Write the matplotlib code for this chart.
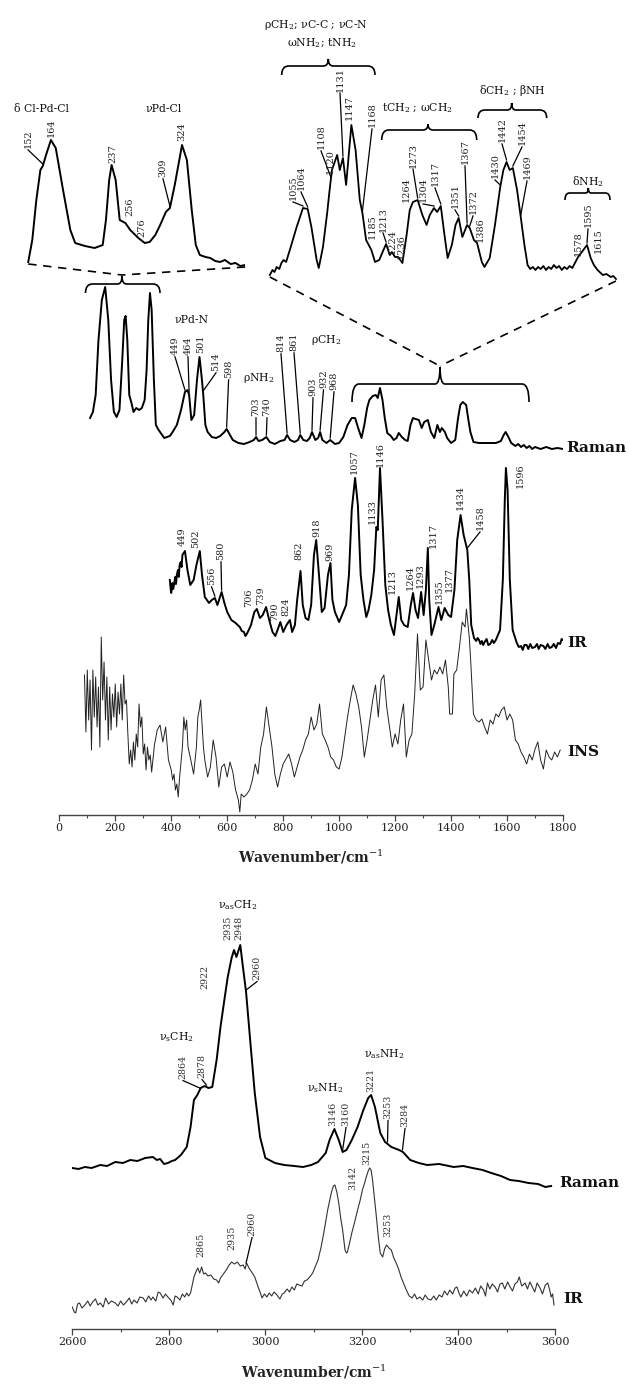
import matplotlib
matplotlib.use("Agg")
import numpy as np
import matplotlib.pyplot as plt
from matplotlib.path import Path
from matplotlib.patches import PathPatch
from matplotlib.ticker import MultipleLocator

plt.rcParams['font.family'] = ['DejaVu Serif']
plt.rcParams['mathtext.fontset'] = 'dejavuserif'

# ===================== DATA =====================
# Raman overview 100-1800 cm-1 (relative intensity)
raman_wn = [110, 120, 130, 140, 152, 164, 175, 185, 195, 205,
            215, 225, 232, 237, 243, 250, 258, 265, 275, 285,
            295, 305, 312, 318, 324, 330, 338, 345, 355, 365,
            375, 385, 395, 405, 420, 435, 449, 458, 464, 472,
            482, 492, 501, 508, 514, 522, 530, 545, 560, 575,
            590, 598, 608, 620, 640, 660, 680, 695, 703, 712,
            725, 740, 752, 770, 790, 805, 814, 825, 840, 853,
            861, 872, 885, 895, 903, 915, 925, 932, 940, 955,
            968, 985, 1000, 1015, 1030, 1045, 1057, 1068, 1080, 1090,
            1100, 1108, 1120, 1131, 1138, 1146, 1155, 1163, 1172, 1185,
            1195, 1205, 1213, 1224, 1236, 1245, 1255, 1264, 1273, 1285,
            1295, 1304, 1317, 1328, 1340, 1351, 1360, 1367, 1378, 1386,
            1400, 1415, 1425, 1433, 1442, 1454, 1462, 1469, 1480, 1500,
            1520, 1540, 1560, 1578, 1588, 1595, 1605, 1615, 1630, 1640,
            1650, 1660, 1670, 1680, 1690, 1700, 1720, 1740, 1760, 1780,
            1800]
raman_int = [31, 37, 54, 109, 149, 162, 129, 69, 37, 32,
             39, 89, 129, 133, 109, 54, 46, 37, 41, 39,
             41, 49, 79, 129, 156, 139, 69, 24, 19, 15,
             11, 12, 13, 17, 24, 39, 57, 59, 54, 29,
             34, 69, 92, 74, 56, 24, 17, 12, 11, 13,
             17, 20, 15, 9, 6, 5, 7, 9, 12, 8,
             9, 12, 7, 5, 8, 9, 14, 9, 7, 9,
             14, 9, 8, 11, 17, 9, 11, 17, 9, 6,
             9, 5, 6, 12, 24, 31, 31, 21, 11, 24,
             41, 49, 53, 54, 51, 61, 49, 31, 16, 13,
             9, 11, 16, 12, 9, 8, 24, 31, 30, 29,
             21, 27, 29, 17, 11, 24, 17, 21, 17, 11,
             6, 9, 31, 44, 47, 44, 29, 17, 7, 6,
             6, 6, 6, 8, 14, 17, 12, 6, 3, 5,
             2, 4, 1, 3, 0, 2, 0, 2, 0, 1,
             0]

# Raman expanded 130-400 cm-1
raman_lo_wn = [134, 139, 144, 149, 152, 156, 162, 168, 177, 186,
               192, 204, 216, 226, 230, 234, 237, 242, 247, 254,
               260, 270, 278, 284, 291, 297, 304, 309, 315, 324,
               330, 336, 341, 346, 353, 359, 365, 371, 377, 384,
               390, 396, 402]
raman_lo_int = [4, 26, 66, 96, 100, 111, 126, 118, 76, 36,
                23, 20, 18, 21, 46, 86, 101, 86, 46, 43,
                36, 28, 23, 24, 31, 41, 54, 58, 81, 121,
                106, 56, 21, 11, 9, 8, 5, 4, 6, 2,
                3, 0, 1]

# Raman expanded 990-1650 cm-1
raman_mid_wn = [992, 997, 1001, 1005, 1010, 1014, 1018, 1023, 1027, 1030,
                1043, 1055, 1064, 1071, 1081, 1085, 1093, 1101, 1105, 1110,
                1120, 1125, 1131, 1137, 1147, 1155, 1163, 1168, 1175, 1185,
                1192, 1200, 1208, 1213, 1220, 1224, 1230, 1236, 1244, 1252,
                1258, 1264, 1273, 1282, 1290, 1296, 1304, 1310, 1317, 1324,
                1330, 1338, 1345, 1351, 1358, 1367, 1372, 1380, 1386, 1395,
                1400, 1410, 1420, 1430, 1436, 1442, 1448, 1454, 1462, 1469,
                1476, 1482, 1487, 1492, 1497, 1502, 1507, 1512, 1517, 1522,
                1527, 1532, 1537, 1542, 1547, 1552, 1557, 1562, 1567, 1572,
                1578, 1588, 1595, 1602, 1608, 1615, 1625, 1632, 1640, 1645,
                1650]
raman_mid_int = [5, 10, 8, 13, 11, 17, 20, 18, 25, 30,
                 53, 72, 71, 53, 20, 12, 33, 67, 87, 110,
                 125, 110, 122, 95, 155, 130, 80, 67, 40, 30,
                 18, 20, 30, 36, 25, 28, 23, 23, 17, 45,
                 70, 78, 80, 65, 55, 65, 72, 68, 74, 45,
                 22, 35, 55, 62, 43, 55, 52, 40, 37, 18,
                 13, 22, 55, 93, 110, 118, 110, 112, 90, 63,
                 35, 15, 11, 13, 10, 13, 11, 14, 10, 13,
                 11, 15, 12, 14, 10, 13, 11, 14, 12, 17,
                 23, 30, 35, 22, 15, 10, 5, 6, 3, 4,
                 1]

# IR 400-1800 cm-1
ir_wn = [395, 398, 400, 404, 407, 410, 414, 417, 420, 424,
         427, 430, 434, 437, 440, 449, 458, 468, 480, 490,
         502, 510, 520, 535, 545, 556, 565, 580, 590, 600,
         615, 630, 645, 652, 660, 665, 670, 677, 685, 697,
         706, 717, 727, 739, 750, 762, 772, 780, 790, 800,
         812, 824, 832, 842, 850, 862, 870, 880, 890, 900,
         910, 918, 928, 938, 948, 960, 969, 976, 985, 1000,
         1012, 1025, 1035, 1045, 1057, 1067, 1077, 1087, 1097, 1105,
         1115, 1125, 1133, 1138, 1146, 1155, 1165, 1175, 1185, 1196,
         1205, 1213, 1222, 1232, 1245, 1256, 1264, 1273, 1282, 1293,
         1302, 1310, 1317, 1322, 1330, 1340, 1355, 1365, 1377, 1390,
         1400, 1412, 1422, 1434, 1445, 1458, 1465, 1472, 1482, 1490,
         1495, 1500, 1505, 1510, 1515, 1520, 1527, 1533, 1540, 1547,
         1553, 1560, 1575, 1585, 1592, 1596, 1602, 1610, 1620, 1635,
         1642, 1650, 1656, 1662, 1670, 1676, 1683, 1690, 1700, 1707,
         1713, 1720, 1730, 1737, 1745, 1752, 1760, 1767, 1775, 1782,
         1790, 1795, 1800]
ir_int = [67, 58, 54, 64, 58, 62, 70, 63, 72, 77,
          70, 82, 85, 80, 92, 96, 77, 62, 67, 82,
          96, 72, 50, 44, 47, 49, 42, 55, 44, 35,
          27, 24, 20, 16, 15, 11, 13, 17, 22, 35,
          38, 29, 32, 40, 27, 15, 11, 17, 25, 15,
          22, 27, 15, 22, 47, 76, 42, 29, 27, 42,
          92, 107, 72, 35, 39, 72, 84, 47, 35, 25,
          33, 42, 72, 137, 169, 142, 72, 47, 30, 37,
          52, 77, 120, 117, 179, 127, 62, 37, 22, 12,
          32, 50, 27, 22, 20, 42, 54, 37, 29, 55,
          32, 57, 99, 47, 12, 22, 40, 27, 39, 32,
          30, 57, 107, 132, 112, 97, 67, 22, 9, 6,
          9, 7, 3, 6, 2, 5, 8, 2, 3, 7,
          4, 7, 17, 67, 147, 179, 157, 67, 17, 4,
          0, 1, -3, 2, 2, -2, 3, -1, 0, 3,
          -2, 2, 1, -2, 3, -1, 0, 3, -1, 4,
          3, 8, 7]

# INS 90-1790 cm-1
ins_wn = [90, 95, 100, 105, 110, 115, 120, 125, 130, 135,
          140, 145, 150, 155, 160, 165, 170, 175, 180, 185,
          190, 195, 200, 205, 210, 215, 220, 225, 230, 235,
          240, 245, 250, 255, 260, 265, 270, 275, 280, 285,
          290, 295, 300, 305, 310, 315, 320, 325, 330, 340,
          350, 360, 370, 380, 390, 400, 405, 410, 415, 420,
          425, 430, 440, 445, 450, 455, 460, 470, 480, 490,
          495, 500, 505, 510, 515, 520, 530, 540, 550, 560,
          570, 580, 590, 600, 610, 620, 630, 640, 645, 650,
          660, 670, 680, 690, 700, 710, 720, 730, 740, 750,
          760, 770, 780, 790, 800, 810, 820, 830, 840, 850,
          860, 870, 880, 890, 900, 910, 920, 930, 940, 950,
          960, 970, 980, 990, 1000, 1010, 1020, 1030, 1040, 1050,
          1060, 1070, 1080, 1090, 1100, 1110, 1120, 1130, 1140, 1150,
          1160, 1170, 1180, 1190, 1200, 1210, 1220, 1230, 1240, 1250,
          1260, 1270, 1280, 1290, 1300, 1310, 1320, 1330, 1340, 1350,
          1360, 1370, 1380, 1390, 1395, 1405, 1410, 1420, 1430, 1440,
          1450, 1455, 1465, 1470, 1480, 1490, 1500, 1510, 1520, 1530,
          1540, 1550, 1560, 1570, 1580, 1590, 1600, 1610, 1620, 1630,
          1640, 1650, 1660, 1670, 1680, 1690, 1700, 1710, 1720, 1730,
          1740, 1750, 1760, 1770, 1780, 1790]
ins_int = [152, 95, 157, 107, 147, 77, 157, 110, 150, 100,
           140, 80, 190, 127, 165, 107, 150, 87, 140, 97,
           133, 110, 143, 100, 135, 113, 143, 107, 152, 123,
           127, 93, 63, 77, 60, 85, 67, 93, 80, 123,
           100, 110, 73, 83, 57, 80, 67, 72, 55, 82,
           97, 102, 85, 100, 67, 57, 47, 53, 37, 43,
           30, 50, 80, 110, 97, 107, 80, 67, 53, 80,
           110, 117, 127, 103, 80, 67, 50, 60, 87, 70,
           40, 60, 63, 50, 65, 55, 37, 27, 15, 33,
           30, 33, 37, 47, 63, 53, 80, 93, 120, 100,
           80, 53, 40, 53, 63, 68, 73, 63, 50, 60,
           70, 77, 87, 93, 110, 97, 103, 123, 93, 87,
           80, 70, 67, 60, 58, 70, 90, 110, 127, 142,
           133, 120, 100, 70, 87, 107, 127, 142, 110, 147,
           152, 120, 100, 80, 93, 83, 107, 123, 70, 87,
           93, 133, 193, 137, 140, 187, 167, 147, 157, 153,
           160, 153, 167, 140, 113, 113, 153, 157, 180, 205,
           200, 218, 190, 167, 113, 107, 105, 108, 100, 93,
           107, 103, 113, 110, 117, 120, 107, 113, 107, 87,
           83, 75, 70, 63, 73, 67, 78, 85, 67, 58,
           77, 70, 67, 75, 70, 77]

# High-frequency Raman 2600-3600 cm-1
hraman_wn = [2600, 2613, 2626, 2640, 2658, 2672, 2689, 2705, 2720, 2735,
             2751, 2767, 2775, 2782, 2790, 2798, 2806, 2813, 2825, 2837,
             2845, 2852, 2859, 2866, 2874, 2882, 2890, 2899, 2907, 2915,
             2922, 2930, 2935, 2940, 2948, 2953, 2960, 2969, 2978, 2989,
             3000, 3020, 3039, 3060, 3078, 3095, 3109, 3125, 3133, 3143,
             3152, 3160, 3168, 3179, 3191, 3203, 3213, 3219, 3227, 3238,
             3248, 3261, 3277, 3285, 3300, 3318, 3335, 3360, 3390, 3410,
             3429, 3450, 3468, 3488, 3507, 3525, 3545, 3565, 3580, 3592]
hraman_int = [22, 21, 23, 22, 25, 24, 28, 27, 30, 29,
              32, 33, 30, 31, 26, 27, 29, 30, 35, 43,
              63, 90, 95, 102, 104, 102, 103, 130, 163, 190,
              213, 232, 240, 233, 245, 225, 198, 147, 97, 53,
              32, 27, 25, 24, 23, 25, 28, 37, 50, 61,
              50, 38, 40, 50, 63, 80, 92, 95, 83, 57,
              48, 43, 40, 38, 30, 27, 25, 26, 23, 24,
              22, 20, 17, 14, 10, 9, 7, 6, 3, 4]

# High-frequency IR 2600-3600 cm-1
hir_wn = [2600, 2604, 2607, 2611, 2615, 2620, 2626, 2632, 2637, 2642,
          2648, 2653, 2658, 2664, 2669, 2675, 2681, 2689, 2695, 2700,
          2706, 2712, 2718, 2723, 2728, 2734, 2740, 2747, 2752, 2758,
          2763, 2767, 2773, 2778, 2782, 2788, 2793, 2798, 2804, 2809,
          2813, 2817, 2823, 2828, 2833, 2837, 2841, 2845, 2852, 2856,
          2860, 2864, 2868, 2872, 2876, 2881, 2887, 2893, 2899, 2903,
          2907, 2913, 2919, 2925, 2930, 2936, 2942, 2948, 2954, 2958,
          2961, 2966, 2973, 2978, 2985, 2989, 2993, 2998, 3003, 3008,
          3013, 3018, 3024, 3030, 3035, 3039, 3045, 3050, 3055, 3060,
          3065, 3070, 3076, 3081, 3086, 3092, 3098, 3104, 3109, 3115,
          3121, 3129, 3137, 3141, 3144, 3148, 3152, 3156, 3160, 3165,
          3168, 3170, 3174, 3179, 3185, 3191, 3196, 3201, 3205, 3209,
          3213, 3216, 3219, 3222, 3226, 3230, 3234, 3238, 3243, 3247,
          3251, 3256, 3261, 3266, 3271, 3276, 3281, 3286, 3292, 3298,
          3304, 3309, 3314, 3320, 3326, 3331, 3337, 3343, 3349, 3354,
          3360, 3366, 3371, 3377, 3382, 3388, 3393, 3397, 3401, 3405,
          3411, 3417, 3423, 3429, 3435, 3441, 3446, 3452, 3456, 3460,
          3465, 3470, 3476, 3481, 3486, 3491, 3496, 3502, 3507, 3512,
          3517, 3522, 3526, 3531, 3538, 3543, 3548, 3553, 3558, 3563,
          3569, 3574, 3580, 3585, 3589, 3592, 3595, 3598]
hir_int = [3, -2, -3, 6, 7, 2, 5, 9, 4, 8,
           11, 5, 7, 3, 12, 6, 9, 7, 4, 9,
           5, 8, 12, 6, 10, 7, 13, 12, 8, 14,
           10, 13, 9, 18, 17, 12, 16, 13, 10, 5,
           14, 13, 10, 16, 13, 17, 14, 17, 33, 38,
           42, 37, 43, 36, 37, 34, 35, 31, 30, 27,
           32, 36, 40, 45, 48, 46, 48, 44, 45, 41,
           47, 42, 37, 33, 23, 18, 12, 16, 13, 17,
           14, 18, 15, 11, 16, 17, 21, 18, 23, 20,
           26, 25, 24, 29, 30, 33, 37, 44, 50, 62,
           77, 100, 118, 124, 125, 118, 107, 92, 80, 60,
           57, 58, 66, 77, 88, 100, 109, 120, 126, 133,
           139, 142, 140, 130, 112, 93, 73, 57, 53, 61,
           65, 62, 60, 52, 47, 41, 33, 27, 20, 14,
           12, 16, 11, 13, 10, 15, 11, 10, 14, 10,
           15, 13, 19, 15, 20, 16, 22, 23, 17, 13,
           19, 14, 20, 17, 22, 16, 24, 20, 14, 27,
           21, 26, 23, 18, 26, 27, 21, 28, 23, 19,
           26, 28, 33, 24, 27, 21, 28, 23, 18, 27,
           22, 16, 25, 27, 20, 13, 16, 5]

# labelled peak positions (cm-1)
raman_peaks = [449, 464, 501, 514, 598, 703, 740, 814, 861, 903, 932, 968]
ir_peaks = [449, 502, 556, 580, 706, 739, 790, 824, 862, 918, 969, 1057, 1133,
            1146, 1213, 1264, 1293, 1317, 1355, 1377, 1434, 1458, 1596]
lo_peaks = [152, 164, 237, 256, 276, 309, 324]
mid_peaks = [1055, 1064, 1108, 1120, 1131, 1147, 1168, 1185, 1213, 1224, 1236,
             1264, 1273, 1304, 1317, 1351, 1367, 1372, 1386, 1430, 1442, 1454,
             1469, 1578, 1595, 1615]
hraman_peaks = [2864, 2878, 2922, 2935, 2948, 2960, 3146, 3160, 3221, 3253, 3284]
hir_peaks = [2865, 2935, 2960, 3142, 3215, 3253]

# ===================== LAYOUT =====================
W, H = 629, 1384
fig = plt.figure(figsize=(W / 100, H / 100), dpi=100)


def px_axes(x0, x1, y0, y1):
    a = fig.add_axes([x0 / W, 1 - y1 / H, (x1 - x0) / W, (y1 - y0) / H])
    a.patch.set_alpha(0)
    return a


TOP_Y = 815
ax_top = px_axes(59.3, 563, 0, TOP_Y)
ax_top.set_xlim(0, 1800)
ax_top.set_ylim(0, TOP_Y)
ax_lo = px_axes(25, 245, 0, TOP_Y)
ax_lo.set_xlim(130.0, 401.8)
ax_lo.set_ylim(0, TOP_Y)
ax_lo.axis('off')
ax_mid = px_axes(266, 620, 0, TOP_Y)
ax_mid.set_xlim(984.7, 1657.7)
ax_mid.set_ylim(0, TOP_Y)
ax_mid.axis('off')
ax_bot = px_axes(72.3, 555, 870, 1329)
ax_bot.set_xlim(2600, 3600)
ax_bot.set_ylim(0, 459)

ov = fig.add_axes([0, 0, 1, 1])
ov.set_xlim(0, W)
ov.set_ylim(H, 0)
ov.axis('off')
ov.patch.set_alpha(0)

OFF_RAMAN, OFF_IR, OFF_INS = 366, 168, -12
OFF_LO, OFF_MID = 549, 535
OFF_HR, OFF_HIR = 139, 19

ax_top.plot(raman_wn, np.array(raman_int) + OFF_RAMAN, color='black', lw=1.4)
ax_top.plot(ir_wn, np.array(ir_int) + OFF_IR, color='black', lw=1.4)
ax_top.plot(ins_wn, np.array(ins_int) + OFF_INS, color='#222222', lw=0.7)
ax_lo.plot(raman_lo_wn, np.array(raman_lo_int) + OFF_LO, color='black', lw=1.4)
ax_mid.plot(raman_mid_wn, np.array(raman_mid_int) + OFF_MID, color='black', lw=1.3)
ax_bot.plot(hraman_wn, np.array(hraman_int) + OFF_HR, color='black', lw=1.4)
ax_bot.plot(hir_wn, np.array(hir_int) + OFF_HIR, color='#333333', lw=0.8)

for a in (ax_top, ax_bot):
    for s in ('top', 'left', 'right'):
        a.spines[s].set_visible(False)
    a.spines['bottom'].set_color('#444444')
    a.spines['bottom'].set_linewidth(1.0)
    a.set_yticks([])
    a.xaxis.set_major_locator(MultipleLocator(200))
    a.xaxis.set_minor_locator(MultipleLocator(100))
    a.tick_params(axis='x', which='major', direction='out', length=4, width=0.9,
                  colors='#444444', labelsize=8, labelcolor='#222222', pad=2)
    a.tick_params(axis='x', which='minor', direction='out', length=2, width=0.8,
                  colors='#444444')


def to_px(a, x, y):
    dx, dy = a.transData.transform((x, y))
    return dx, H - dy


def peak_labels(a, wl, il, off, peaks, pos, fs=7, color='#222222'):
    for wn, (cx, cy, line) in zip(peaks, pos):
        txt = str(wn)
        ov.text(cx, cy, txt, rotation=90, ha='center', va='center',
                fontsize=fs, color=color)
        if line:
            half = 0.5 * len(txt) * 0.64 * fs * 100 / 72
            px, py = to_px(a, wn, off + np.interp(wn, wl, il))
            y0 = cy + half + 1.5
            y1 = py - 2
            if y1 - y0 > 2:
                ov.plot([cx, px], [y0, y1], color='black', lw=0.9)


raman_pos = [(175, 346, True), (188, 346, True), (200.5, 344, False), (216, 362, True),
             (228.6, 369, True), (256, 407, True), (267, 407, True), (281, 343, True),
             (294, 342, True), (313, 387, True), (323.5, 379, True), (334, 381, True)]
ir_pos = [(182, 537, False), (196, 539, False), (211.5, 576, True), (221, 551, True),
          (249, 598, False), (261, 596, False), (275, 612, False), (286, 607, False),
          (299, 551, False), (317, 528, False), (330, 552, False), (354, 462, False),
          (372, 512, False), (380, 455, False), (392, 582, False), (410, 578, False),
          (420, 576, False), (433, 535, False), (439, 592, False), (449, 580, False),
          (460, 497, False), (480, 518, True), (520, 476, False)]
lo_pos = [(28, 139, True), (51, 128, False), (113, 154, False), (130, 207, False),
          (142, 228, False), (163, 168, True), (182, 132, False)]
mid_pos = [(293, 188, True), (301, 178, True), (321, 137, True), (330, 162, True),
           (340, 79, True), (349, 108, False), (372, 115, True), (372, 227, False),
           (383, 219, True), (392, 241, True), (401, 247, True), (406, 190, True),
           (413, 155, True), (423, 190, True), (435, 174, True), (455, 196, True),
           (465, 152, True), (473, 202, True), (480, 230, True), (495, 166, True),
           (502, 130, True), (522, 133, True), (527, 167, True), (578, 244, False),
           (588, 215, True), (598, 241, False)]
hr_pos = [(183, 1067, True), (202, 1066, True), (205, 977, True), (228, 928, False),
          (239, 928, False), (257, 968, True), (333, 1114, False), (346, 1114, True),
          (371, 1080, False), (388, 1107, True), (405, 1115, True)]
hir_pos = [(201, 1245, False), (232, 1238, False), (252, 1224, True), (353, 1178, False),
           (367, 1153, False), (388, 1225, False)]

peak_labels(ax_top, raman_wn, raman_int, OFF_RAMAN, raman_peaks, raman_pos)
peak_labels(ax_top, ir_wn, ir_int, OFF_IR, ir_peaks, ir_pos)
peak_labels(ax_lo, raman_lo_wn, raman_lo_int, OFF_LO, lo_peaks, lo_pos)
peak_labels(ax_mid, raman_mid_wn, raman_mid_int, OFF_MID, mid_peaks, mid_pos)
peak_labels(ax_bot, hraman_wn, hraman_int, OFF_HR, hraman_peaks, hr_pos, fs=6.8, color='#333333')
peak_labels(ax_bot, hir_wn, hir_int, OFF_HIR, hir_peaks, hir_pos, fs=6.8, color='#333333')


def brace(x0, x1, xa, y_end, y_mid, y_apex, lw=1.2):
    r = min(7, (x1 - x0) * 0.1)
    ra = min(5, (x1 - x0) * 0.06)
    verts = [(x0, y_end), (x0, y_mid), (x0 + r, y_mid),
             (xa - ra, y_mid), (xa, y_mid), (xa, y_apex),
             (xa, y_mid), (xa + ra, y_mid),
             (x1 - r, y_mid), (x1, y_mid), (x1, y_end)]
    codes = [Path.MOVETO, Path.CURVE3, Path.CURVE3, Path.LINETO, Path.CURVE3, Path.CURVE3,
             Path.CURVE3, Path.CURVE3, Path.LINETO, Path.CURVE3, Path.CURVE3]
    ov.add_patch(PathPatch(Path(verts, codes), fill=False, lw=lw, color='black'))


brace(85.5, 160, 122, 293, 284, 276)
brace(352, 529, 440, 402, 384, 367)
brace(281.7, 375, 328.3, 75, 66, 59)
brace(381.7, 476.7, 428, 140, 130, 124)
brace(478, 546.7, 511.7, 118, 110, 103)
brace(565, 610, 588.3, 200, 193, 188)

# dashed connectors from expanded views to the braces
a_l = to_px(ax_lo, raman_lo_wn[0], raman_lo_int[0] + OFF_LO)
a_r = to_px(ax_lo, raman_lo_wn[-1], raman_lo_int[-1] + OFF_LO)
b_l = to_px(ax_mid, raman_mid_wn[0], raman_mid_int[0] + OFF_MID)
b_r = to_px(ax_mid, raman_mid_wn[-1], raman_mid_int[-1] + OFF_MID)
for (sx, sy), (ex, ey) in [(a_l, (122, 275)), (a_r, (122, 275)),
                           (b_l, (440, 366)), (b_r, (440, 366))]:
    ov.plot([sx, ex], [sy + 2, ey], color='black', lw=1.2, dashes=(5, 4))

# group / assignment labels
gfs = 7.8
groups = [('δ Cl-Pd-Cl', 41.5, 109), ('νPd-Cl', 164, 109),
          ('ρCH$_2$; νC-C ; νC-N', 316, 25), ('ωNH$_2$; tNH$_2$', 322, 43),
          ('tCH$_2$ ; ωCH$_2$', 417, 108), ('δCH$_2$ ; βNH', 512, 90),
          ('δNH$_2$', 588, 182), ('νPd-N', 192, 320), ('ρNH$_2$', 259, 378),
          ('ρCH$_2$', 326, 340),
          ('ν$_\\mathrm{s}$CH$_2$', 176, 1037), ('ν$_\\mathrm{as}$CH$_2$', 238, 905),
          ('ν$_\\mathrm{s}$NH$_2$', 325, 1088), ('ν$_\\mathrm{as}$NH$_2$', 384, 1054)]
for t, x, y in groups:
    ov.text(x, y, t, ha='center', va='center', fontsize=gfs, color='#111111')

for t, x, y in [('Raman', 566, 448), ('IR', 567, 643), ('INS', 567, 752),
                ('Raman', 559, 1183), ('IR', 563, 1299)]:
    ov.text(x, y, t, ha='left', va='center', fontsize=11, fontweight='bold', color='#111111')

for x, y in [(311, 857), (313.7, 1372)]:
    ov.text(x, y, 'Wavenumber/cm$^{-1}$', ha='center', va='center', fontsize=10,
            fontweight='bold', color='#222222')

fig.savefig('out.png', dpi=100)
